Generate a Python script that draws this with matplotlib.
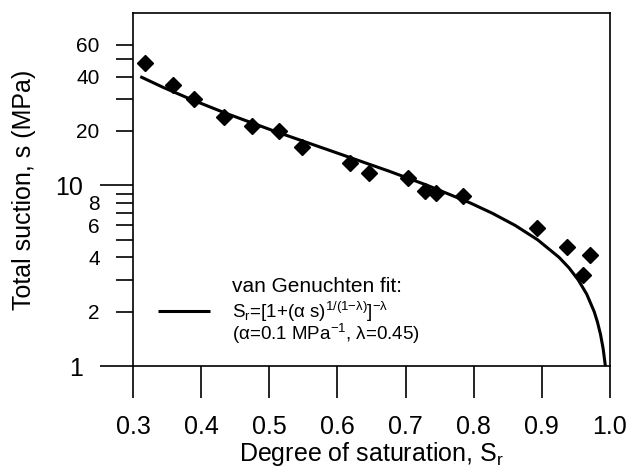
import matplotlib
matplotlib.use("Agg")
import matplotlib.pyplot as plt

plt.rcParams['font.family'] = ['Liberation Sans', 'DejaVu Sans']
plt.rcParams['mathtext.fontset'] = 'custom'
plt.rcParams['mathtext.rm'] = 'Liberation Sans'
plt.rcParams['mathtext.it'] = 'Liberation Sans'
plt.rcParams['mathtext.bf'] = 'Liberation Sans:bold'

# measured points (degree of saturation, total suction in MPa)
sr_data = [0.317, 0.359, 0.389, 0.433, 0.475, 0.514, 0.548, 0.619, 0.646,
           0.704, 0.728, 0.745, 0.784, 0.893, 0.937, 0.971, 0.961]
suction_data = [47.4, 36.0, 29.9, 23.9, 21.3, 20.1, 16.4, 13.3, 11.7,
                11.0, 9.26, 9.11, 8.70, 5.84, 4.53, 4.10, 3.18]

# van Genuchten fit curve (alpha=0.1 MPa^-1, lambda=0.45)
fit_suction = [40, 35, 30, 25, 20, 15, 12, 10, 8, 7, 6, 5, 4, 3.5, 3,
               2.5, 2, 1.75, 1.5, 1.25, 1.0]
fit_sr = [0.3107, 0.3434, 0.3844, 0.4371, 0.5069, 0.6019, 0.6753, 0.7320,
          0.7947, 0.8276, 0.8609, 0.8937, 0.9251, 0.9397, 0.9533, 0.9658,
          0.9768, 0.9816, 0.9860, 0.9899, 0.9932]

x_ticks = [0.3, 0.4, 0.5, 0.6, 0.7, 0.8, 0.9, 1.0]
x_labels = ['0.3', '0.4', '0.5', '0.6', '0.7', '0.8', '0.9', '1.0']
y_major = [1, 10]
y_major_labels = ['1', '10']
y_minor = [2, 3, 4, 5, 6, 7, 8, 9, 20, 30, 40, 50, 60]
y_minor_labels = ['2', '', '4', '', '6', '', '8', '', '20', '', '40', '', '60']

fig = plt.figure(figsize=(6.32, 4.74), dpi=100)
ax = fig.add_axes([133 / 632, 1 - 366 / 474, 477 / 632, 353 / 474])

ax.plot(fit_sr, fit_suction, color='black', lw=2.2, solid_capstyle='butt')
ax.plot(sr_data, suction_data, 'D', color='black', ms=8.5, linestyle='none')

ax.set_yscale('log')
ax.set_xlim(0.3, 1.0)
ax.set_ylim(1, 90)

ax.set_xticks(x_ticks, x_labels)
ax.set_yticks(y_major, y_major_labels)
ax.set_yticks(y_minor, y_minor_labels, minor=True)
ax.tick_params(axis='x', direction='out', length=23, width=1.2, pad=12, labelsize=18)
ax.tick_params(axis='y', which='major', direction='out', length=24, width=1.2,
               pad=12, labelsize=18)
ax.tick_params(axis='y', which='minor', direction='out', length=12, width=1.2,
               pad=12, labelsize=15)
for sp in ax.spines.values():
    sp.set_linewidth(1.2)

ax.set_xlabel('Degree of saturation, $\\mathregular{S_r}$', fontsize=18, labelpad=1)
ax.set_ylabel('Total suction, s (MPa)', fontsize=18, labelpad=14)

# legend drawn by hand
ax.plot([0.052, 0.161], [0.155, 0.155], color='black', lw=2.2,
        transform=ax.transAxes, solid_capstyle='butt')
ax.text(0.2075, 0.2096, 'van Genuchten fit:', fontsize=15, transform=ax.transAxes,
        va='baseline', ha='left')
ax.text(0.2075, 0.136,
        '$\\mathregular{S_r}$=[1+(α s)$^{1/(1{-}\\lambda)}$]$^{-\\lambda}$',
        fontsize=13.5, transform=ax.transAxes, va='baseline', ha='left')
ax.text(0.2075, 0.0737, '(α=0.1 MPa$^{-1}$, λ=0.45)', fontsize=13.5,
        transform=ax.transAxes, va='baseline', ha='left')

fig.savefig('out.png', dpi=100)
